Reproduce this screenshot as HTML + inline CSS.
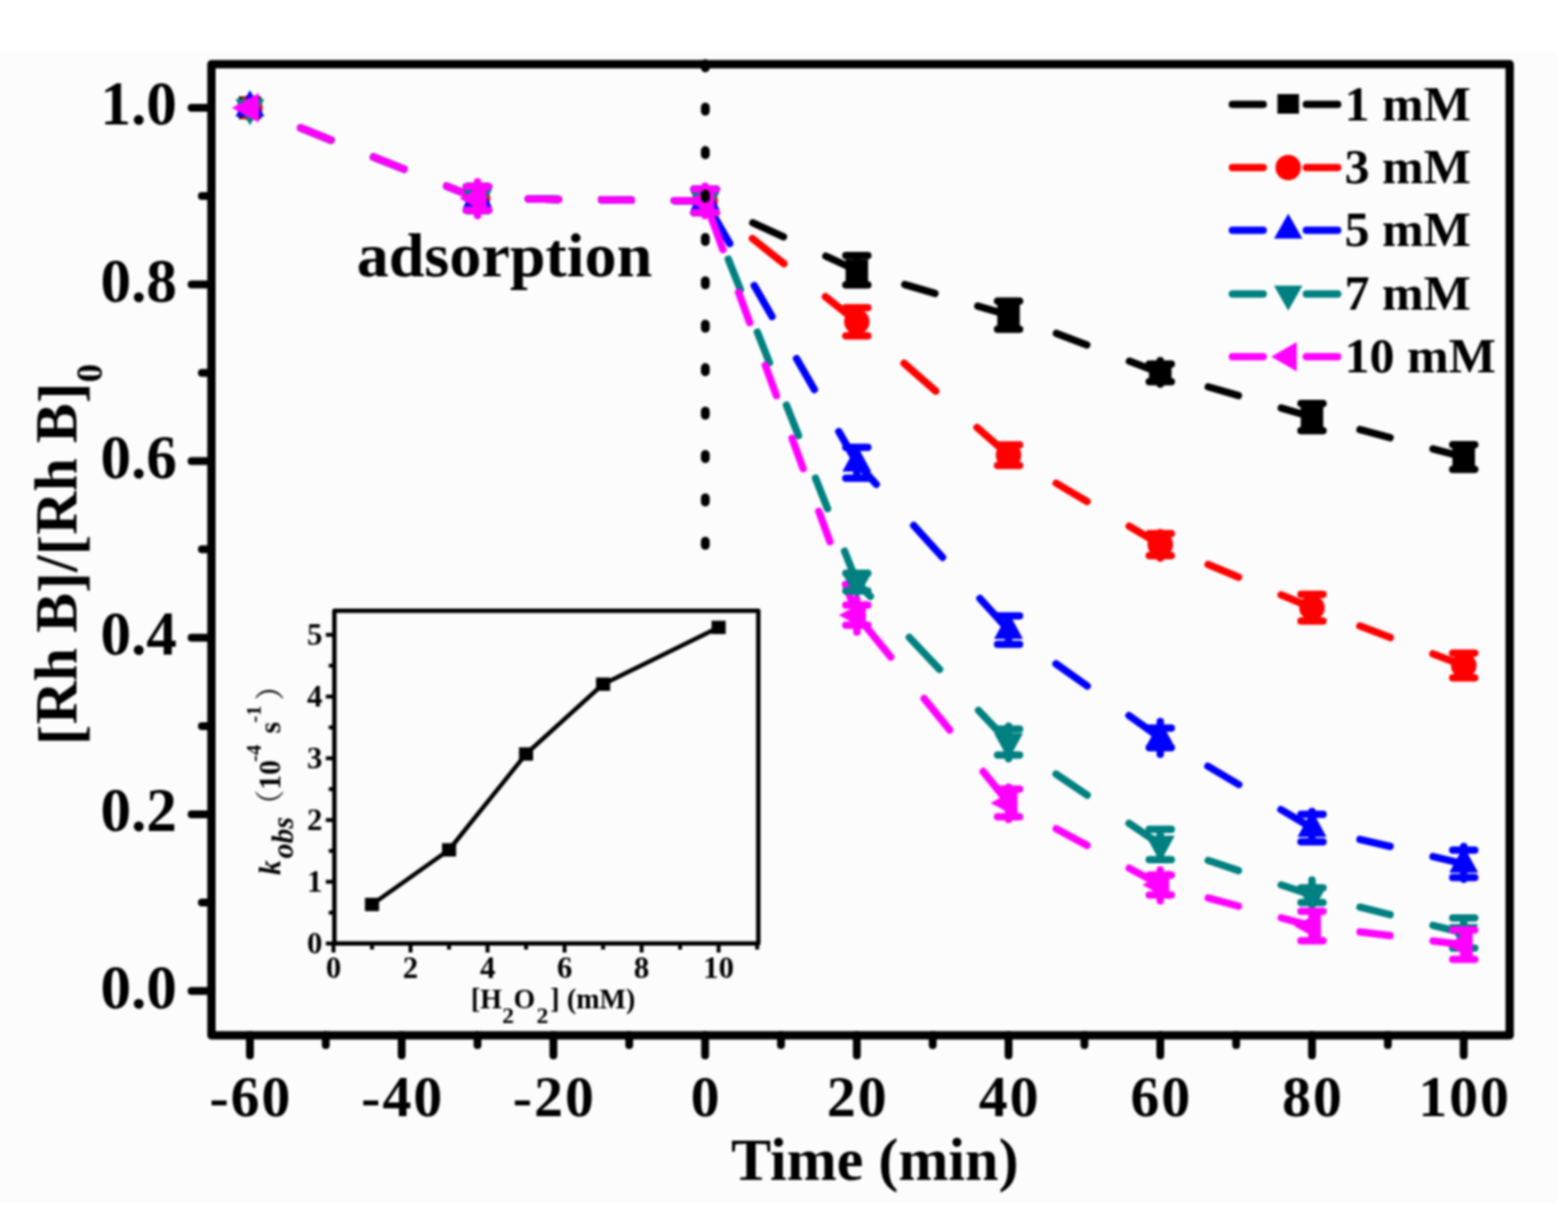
<!DOCTYPE html><html><head><meta charset="utf-8"><title>RhB degradation vs time</title><style>html,body{margin:0;padding:0;background:#fff;overflow:hidden;}svg{display:block;filter:blur(1px);}text{font-family:'Liberation Serif', 'Times New Roman', Times, serif;font-weight:bold;fill:#000;}</style></head><body>
<svg width="1600" height="1247" viewBox="0 0 1600 1247">
<rect x="0" y="0" width="1600" height="1247" fill="#ffffff"/>
<rect x="0" y="53" width="1589" height="1175" fill="#fcfcfc"/>
<g><path d="M455.75 189.95L483.79 201.11M381.25 160.27L412.29 172.63M306.75 130.60L337.79 142.96" stroke="#000000" stroke-width="7.5" stroke-linecap="round" fill="none"/><path d="M688.25 204.66L715.75 204.96M613.75 203.86L644.25 204.19M539.25 203.06L569.75 203.39" stroke="#000000" stroke-width="7.5" stroke-linecap="round" fill="none"/><path d="M842.73 261.39L870.91 274.29M768.23 227.30L799.41 241.57" stroke="#000000" stroke-width="7.5" stroke-linecap="round" fill="none"/><path d="M997.74 312.32L1025.54 320.54M923.24 290.30L954.04 299.41" stroke="#000000" stroke-width="7.5" stroke-linecap="round" fill="none"/><path d="M1152.46 368.52L1180.46 379.17M1077.96 340.18L1108.96 351.96" stroke="#000000" stroke-width="7.5" stroke-linecap="round" fill="none"/><path d="M1307.38 416.41L1335.18 424.50M1232.88 394.74L1263.68 403.70" stroke="#000000" stroke-width="7.5" stroke-linecap="round" fill="none"/><path d="M1462.23 458.08L1489.97 465.39M1387.73 438.45L1418.47 446.55" stroke="#000000" stroke-width="7.5" stroke-linecap="round" fill="none"/><path d="M455.75 189.95L483.79 201.11M381.25 160.27L412.29 172.63M306.75 130.60L337.79 142.96" stroke="#ff0000" stroke-width="7.5" stroke-linecap="round" fill="none"/><path d="M688.25 204.66L715.75 204.96M613.75 203.86L644.25 204.19M539.25 203.06L569.75 203.39" stroke="#ff0000" stroke-width="7.5" stroke-linecap="round" fill="none"/><path d="M842.25 302.80L871.39 326.01M767.75 243.44L799.89 269.05" stroke="#ff0000" stroke-width="7.5" stroke-linecap="round" fill="none"/><path d="M996.96 436.20L1026.32 462.02M922.46 370.68L954.82 399.15" stroke="#ff0000" stroke-width="7.5" stroke-linecap="round" fill="none"/><path d="M1152.19 537.03L1180.73 553.85M1077.69 493.12L1109.23 511.70" stroke="#ff0000" stroke-width="7.5" stroke-linecap="round" fill="none"/><path d="M1307.24 607.03L1335.32 618.71M1232.74 576.04L1263.82 588.97" stroke="#ff0000" stroke-width="7.5" stroke-linecap="round" fill="none"/><path d="M1462.10 667.15L1490.10 677.81M1387.60 638.76L1418.60 650.57" stroke="#ff0000" stroke-width="7.5" stroke-linecap="round" fill="none"/><path d="M455.75 189.95L483.79 201.11M381.25 160.27L412.29 172.63M306.75 130.60L337.79 142.96" stroke="#0000ff" stroke-width="7.5" stroke-linecap="round" fill="none"/><path d="M688.25 204.66L715.75 204.96M613.75 203.86L644.25 204.19M539.25 203.06L569.75 203.39" stroke="#0000ff" stroke-width="7.5" stroke-linecap="round" fill="none"/><path d="M855.92 440.49L872.44 469.01M812.77 365.99L831.02 397.51M769.61 291.49L787.86 323.01M726.45 216.99L744.70 248.51" stroke="#0000ff" stroke-width="7.5" stroke-linecap="round" fill="none"/><path d="M999.92 610.73L1026.62 640.17M932.35 536.23L961.77 568.67M876.84 475.03L894.20 494.17" stroke="#0000ff" stroke-width="7.5" stroke-linecap="round" fill="none"/><path d="M1152.02 730.29L1180.90 750.83M1077.52 677.34L1109.40 700.00" stroke="#0000ff" stroke-width="7.5" stroke-linecap="round" fill="none"/><path d="M1307.00 826.12L1335.56 843.08M1232.50 781.85L1264.06 800.60" stroke="#0000ff" stroke-width="7.5" stroke-linecap="round" fill="none"/><path d="M1462.25 874.07L1489.95 880.59M1387.75 856.53L1418.45 863.76" stroke="#0000ff" stroke-width="7.5" stroke-linecap="round" fill="none"/><path d="M455.75 189.95L483.79 201.11M381.25 160.27L412.29 172.63M306.75 130.60L337.79 142.96" stroke="#008080" stroke-width="7.5" stroke-linecap="round" fill="none"/><path d="M688.25 204.66L715.75 204.96M613.75 203.86L644.25 204.19M539.25 203.06L569.75 203.39" stroke="#008080" stroke-width="7.5" stroke-linecap="round" fill="none"/><path d="M861.78 562.48L872.93 590.52M832.13 487.98L844.48 519.02M802.48 413.48L814.83 444.52M772.83 338.98L785.18 370.02M743.17 264.48L755.52 295.52M720.89 208.48L725.87 221.02" stroke="#008080" stroke-width="7.5" stroke-linecap="round" fill="none"/><path d="M998.54 725.02L1026.56 754.58M927.91 650.52L958.77 683.08M876.90 596.72L888.14 608.58" stroke="#008080" stroke-width="7.5" stroke-linecap="round" fill="none"/><path d="M1152.07 840.19L1180.85 859.60M1077.57 789.96L1109.35 811.39" stroke="#008080" stroke-width="7.5" stroke-linecap="round" fill="none"/><path d="M1307.34 902.98L1335.22 912.31M1232.84 878.05L1263.72 888.39" stroke="#008080" stroke-width="7.5" stroke-linecap="round" fill="none"/><path d="M1462.24 944.28L1489.96 951.19M1387.74 925.71L1418.46 933.37" stroke="#008080" stroke-width="7.5" stroke-linecap="round" fill="none"/><path d="M455.75 189.95L483.79 201.11M381.25 160.27L412.29 172.63M306.75 130.60L337.79 142.96" stroke="#ff00ff" stroke-width="7.5" stroke-linecap="round" fill="none"/><path d="M688.25 204.66L715.75 204.96M613.75 203.86L644.25 204.19M539.25 203.06L569.75 203.39" stroke="#ff00ff" stroke-width="7.5" stroke-linecap="round" fill="none"/><path d="M862.79 596.27L873.03 624.23M835.51 521.77L846.85 552.73M808.22 447.27L819.56 478.23M780.94 372.77L792.28 403.73M753.66 298.27L765.00 329.23M726.37 223.77L737.71 254.73" stroke="#ff00ff" stroke-width="7.5" stroke-linecap="round" fill="none"/><path d="M1003.22 787.32L1026.78 816.48M943.04 712.82L969.02 744.98M882.86 638.32L908.84 670.48" stroke="#ff00ff" stroke-width="7.5" stroke-linecap="round" fill="none"/><path d="M1152.26 885.96L1180.66 901.32M1077.76 845.68L1109.16 862.66" stroke="#ff00ff" stroke-width="7.5" stroke-linecap="round" fill="none"/><path d="M1307.40 936.51L1335.16 944.02M1232.90 916.34L1263.66 924.67" stroke="#ff00ff" stroke-width="7.5" stroke-linecap="round" fill="none"/><path d="M1462.32 960.16L1489.88 963.54M1387.82 951.02L1418.38 954.77" stroke="#ff00ff" stroke-width="7.5" stroke-linecap="round" fill="none"/></g>
<g><rect x="243.54" y="98.50" width="23.0" height="23.0" fill="#000000"/><path d="M487.27 190.50V214.50M476.02 190.50H498.52M476.02 214.50H498.52" stroke="#000000" stroke-width="7.5" stroke-linecap="round" fill="none"/><rect x="475.77" y="191.00" width="23.0" height="23.0" fill="#000000"/><path d="M719.50 193.00V217.00M708.25 193.00H730.75M708.25 217.00H730.75" stroke="#000000" stroke-width="7.5" stroke-linecap="round" fill="none"/><rect x="708.00" y="193.50" width="23.0" height="23.0" fill="#000000"/><path d="M874.32 260.85V290.85M863.07 260.85H885.57M863.07 290.85H885.57" stroke="#000000" stroke-width="7.5" stroke-linecap="round" fill="none"/><rect x="862.82" y="264.35" width="23.0" height="23.0" fill="#000000"/><path d="M1029.14 307.20V336.00M1017.89 307.20H1040.39M1017.89 336.00H1040.39" stroke="#000000" stroke-width="7.5" stroke-linecap="round" fill="none"/><rect x="1017.64" y="310.10" width="23.0" height="23.0" fill="#000000"/><path d="M1183.96 367.90V391.90M1172.71 371.50H1195.21M1172.71 389.50H1195.21" stroke="#000000" stroke-width="7.5" stroke-linecap="round" fill="none"/><rect x="1172.46" y="369.00" width="23.0" height="23.0" fill="#000000"/><path d="M1338.78 411.70V439.40M1327.53 411.70H1350.03M1327.53 439.40H1350.03" stroke="#000000" stroke-width="7.5" stroke-linecap="round" fill="none"/><rect x="1327.28" y="414.05" width="23.0" height="23.0" fill="#000000"/><path d="M1493.60 453.70V479.00M1482.35 453.70H1504.85M1482.35 479.00H1504.85" stroke="#000000" stroke-width="7.5" stroke-linecap="round" fill="none"/><rect x="1482.10" y="454.85" width="23.0" height="23.0" fill="#000000"/><circle cx="255.04" cy="110.00" r="13" fill="#ff0000"/><path d="M487.27 190.50V214.50M476.02 190.50H498.52M476.02 214.50H498.52" stroke="#ff0000" stroke-width="7.5" stroke-linecap="round" fill="none"/><circle cx="487.27" cy="202.50" r="13" fill="#ff0000"/><path d="M719.50 193.00V217.00M708.25 193.00H730.75M708.25 217.00H730.75" stroke="#ff0000" stroke-width="7.5" stroke-linecap="round" fill="none"/><circle cx="719.50" cy="205.00" r="13" fill="#ff0000"/><path d="M874.32 314.00V342.70M863.07 314.00H885.57M863.07 342.70H885.57" stroke="#ff0000" stroke-width="7.5" stroke-linecap="round" fill="none"/><circle cx="874.32" cy="328.35" r="13" fill="#ff0000"/><path d="M1029.14 454.00V475.00M1017.89 454.00H1040.39M1017.89 475.00H1040.39" stroke="#ff0000" stroke-width="7.5" stroke-linecap="round" fill="none"/><circle cx="1029.14" cy="464.50" r="13" fill="#ff0000"/><path d="M1183.96 543.50V569.50M1172.71 544.50H1195.21M1172.71 567.00H1195.21" stroke="#ff0000" stroke-width="7.5" stroke-linecap="round" fill="none"/><circle cx="1183.96" cy="555.75" r="13" fill="#ff0000"/><path d="M1338.78 606.60V633.70M1327.53 606.60H1350.03M1327.53 633.70H1350.03" stroke="#ff0000" stroke-width="7.5" stroke-linecap="round" fill="none"/><circle cx="1338.78" cy="620.15" r="13" fill="#ff0000"/><path d="M1493.60 666.50V691.80M1482.35 666.50H1504.85M1482.35 691.80H1504.85" stroke="#ff0000" stroke-width="7.5" stroke-linecap="round" fill="none"/><circle cx="1493.60" cy="679.15" r="13" fill="#ff0000"/><polygon points="255.04,92.00 269.79,119.00 240.29,119.00" fill="#0000ff"/><path d="M487.27 190.50V214.50M476.02 190.50H498.52M476.02 214.50H498.52" stroke="#0000ff" stroke-width="7.5" stroke-linecap="round" fill="none"/><polygon points="487.27,184.50 502.02,211.50 472.52,211.50" fill="#0000ff"/><path d="M719.50 193.00V217.00M708.25 193.00H730.75M708.25 217.00H730.75" stroke="#0000ff" stroke-width="7.5" stroke-linecap="round" fill="none"/><polygon points="719.50,187.00 734.25,214.00 704.75,214.00" fill="#0000ff"/><path d="M874.32 456.50V488.00M863.07 456.50H885.57M863.07 488.00H885.57" stroke="#0000ff" stroke-width="7.5" stroke-linecap="round" fill="none"/><polygon points="874.32,454.25 889.07,481.25 859.57,481.25" fill="#0000ff"/><path d="M1029.14 628.40V657.50M1017.89 628.40H1040.39M1017.89 657.50H1040.39" stroke="#0000ff" stroke-width="7.5" stroke-linecap="round" fill="none"/><polygon points="1029.14,624.95 1043.89,651.95 1014.39,651.95" fill="#0000ff"/><path d="M1183.96 736.25V769.75M1172.71 743.00H1195.21M1172.71 763.00H1195.21" stroke="#0000ff" stroke-width="7.5" stroke-linecap="round" fill="none"/><polygon points="1183.96,735.00 1198.71,762.00 1169.21,762.00" fill="#0000ff"/><path d="M1338.78 828.00V859.00M1327.53 831.00H1350.03M1327.53 859.00H1350.03" stroke="#0000ff" stroke-width="7.5" stroke-linecap="round" fill="none"/><polygon points="1338.78,827.00 1353.53,854.00 1324.03,854.00" fill="#0000ff"/><path d="M1493.60 863.70V897.20M1482.35 867.50H1504.85M1482.35 895.40H1504.85" stroke="#0000ff" stroke-width="7.5" stroke-linecap="round" fill="none"/><polygon points="1493.60,863.45 1508.35,890.45 1478.85,890.45" fill="#0000ff"/><polygon points="255.04,128.00 269.79,101.00 240.29,101.00" fill="#008080"/><path d="M487.27 190.50V214.50M476.02 190.50H498.52M476.02 214.50H498.52" stroke="#008080" stroke-width="7.5" stroke-linecap="round" fill="none"/><polygon points="487.27,220.50 502.02,193.50 472.52,193.50" fill="#008080"/><path d="M719.50 193.00V217.00M708.25 193.00H730.75M708.25 217.00H730.75" stroke="#008080" stroke-width="7.5" stroke-linecap="round" fill="none"/><polygon points="719.50,223.00 734.25,196.00 704.75,196.00" fill="#008080"/><path d="M874.32 585.00V603.00M863.07 585.00H885.57M863.07 603.00H885.57" stroke="#008080" stroke-width="7.5" stroke-linecap="round" fill="none"/><polygon points="874.32,612.00 889.07,585.00 859.57,585.00" fill="#008080"/><path d="M1029.14 741.00V774.20M1017.89 744.00H1040.39M1017.89 770.60H1040.39" stroke="#008080" stroke-width="7.5" stroke-linecap="round" fill="none"/><polygon points="1029.14,775.30 1043.89,748.30 1014.39,748.30" fill="#008080"/><path d="M1183.96 846.20V877.20M1172.71 846.20H1195.21M1172.71 877.20H1195.21" stroke="#008080" stroke-width="7.5" stroke-linecap="round" fill="none"/><polygon points="1183.96,879.70 1198.71,852.70 1169.21,852.70" fill="#008080"/><path d="M1338.78 898.00V921.00M1327.53 906.00H1350.03M1327.53 921.00H1350.03" stroke="#008080" stroke-width="7.5" stroke-linecap="round" fill="none"/><polygon points="1338.78,931.50 1353.53,904.50 1324.03,904.50" fill="#008080"/><path d="M1493.60 936.70V967.50M1482.35 936.70H1504.85M1482.35 967.50H1504.85" stroke="#008080" stroke-width="7.5" stroke-linecap="round" fill="none"/><polygon points="1493.60,970.10 1508.35,943.10 1478.85,943.10" fill="#008080"/><polygon points="236.71,110.00 264.21,95.00 264.21,125.00" fill="#ff00ff"/><path d="M487.27 185.50V219.90M476.02 190.50H498.52M476.02 214.50H498.52" stroke="#ff00ff" stroke-width="7.5" stroke-linecap="round" fill="none"/><polygon points="468.94,202.50 496.44,187.50 496.44,217.50" fill="#ff00ff"/><path d="M719.50 190.00V220.00M708.25 193.00H730.75M708.25 217.00H730.75" stroke="#ff00ff" stroke-width="7.5" stroke-linecap="round" fill="none"/><polygon points="701.17,205.00 728.67,190.00 728.67,220.00" fill="#ff00ff"/><path d="M874.32 611.50V645.00M863.07 617.50H885.57M863.07 638.00H885.57" stroke="#ff00ff" stroke-width="7.5" stroke-linecap="round" fill="none"/><polygon points="855.99,627.75 883.49,612.75 883.49,642.75" fill="#ff00ff"/><path d="M1029.14 803.30V836.25M1017.89 805.30H1040.39M1017.89 833.50H1040.39" stroke="#ff00ff" stroke-width="7.5" stroke-linecap="round" fill="none"/><polygon points="1010.81,819.40 1038.31,804.40 1038.31,834.40" fill="#ff00ff"/><path d="M1183.96 887.75V919.20M1172.71 893.00H1195.21M1172.71 913.20H1195.21" stroke="#ff00ff" stroke-width="7.5" stroke-linecap="round" fill="none"/><polygon points="1165.63,903.10 1193.13,888.10 1193.13,918.10" fill="#ff00ff"/><path d="M1338.78 930.00V960.00M1327.53 930.00H1350.03M1327.53 960.00H1350.03" stroke="#ff00ff" stroke-width="7.5" stroke-linecap="round" fill="none"/><polygon points="1320.45,945.00 1347.95,930.00 1347.95,960.00" fill="#ff00ff"/><path d="M1493.60 949.00V979.00M1482.35 949.00H1504.85M1482.35 979.00H1504.85" stroke="#ff00ff" stroke-width="7.5" stroke-linecap="round" fill="none"/><polygon points="1475.27,964.00 1502.77,949.00 1502.77,979.00" fill="#ff00ff"/></g>
<line x1="719.7" y1="65" x2="719.7" y2="558" stroke="#000" stroke-width="9" stroke-linecap="round" stroke-dasharray="4.3 40"/>
<rect x="215.75" y="65.5" width="1324.75" height="991.1" fill="none" stroke="#000" stroke-width="8.5" stroke-linejoin="round"/>
<line x1="195.5" y1="1011.25" x2="216" y2="1011.25" stroke="#000" stroke-width="8" stroke-linecap="round"/>
<line x1="206" y1="921.12" x2="216" y2="921.12" stroke="#000" stroke-width="8" stroke-linecap="round"/>
<line x1="195.5" y1="831.00" x2="216" y2="831.00" stroke="#000" stroke-width="8" stroke-linecap="round"/>
<line x1="206" y1="740.88" x2="216" y2="740.88" stroke="#000" stroke-width="8" stroke-linecap="round"/>
<line x1="195.5" y1="650.75" x2="216" y2="650.75" stroke="#000" stroke-width="8" stroke-linecap="round"/>
<line x1="206" y1="560.62" x2="216" y2="560.62" stroke="#000" stroke-width="8" stroke-linecap="round"/>
<line x1="195.5" y1="470.50" x2="216" y2="470.50" stroke="#000" stroke-width="8" stroke-linecap="round"/>
<line x1="206" y1="380.38" x2="216" y2="380.38" stroke="#000" stroke-width="8" stroke-linecap="round"/>
<line x1="195.5" y1="290.25" x2="216" y2="290.25" stroke="#000" stroke-width="8" stroke-linecap="round"/>
<line x1="206" y1="200.12" x2="216" y2="200.12" stroke="#000" stroke-width="8" stroke-linecap="round"/>
<line x1="195.5" y1="110.00" x2="216" y2="110.00" stroke="#000" stroke-width="8" stroke-linecap="round"/>
<line x1="255.04" y1="1056" x2="255.04" y2="1077" stroke="#000" stroke-width="8" stroke-linecap="round"/>
<line x1="332.45" y1="1056" x2="332.45" y2="1066.5" stroke="#000" stroke-width="8" stroke-linecap="round"/>
<line x1="409.86" y1="1056" x2="409.86" y2="1077" stroke="#000" stroke-width="8" stroke-linecap="round"/>
<line x1="487.27" y1="1056" x2="487.27" y2="1066.5" stroke="#000" stroke-width="8" stroke-linecap="round"/>
<line x1="564.68" y1="1056" x2="564.68" y2="1077" stroke="#000" stroke-width="8" stroke-linecap="round"/>
<line x1="642.09" y1="1056" x2="642.09" y2="1066.5" stroke="#000" stroke-width="8" stroke-linecap="round"/>
<line x1="719.50" y1="1056" x2="719.50" y2="1077" stroke="#000" stroke-width="8" stroke-linecap="round"/>
<line x1="796.91" y1="1056" x2="796.91" y2="1066.5" stroke="#000" stroke-width="8" stroke-linecap="round"/>
<line x1="874.32" y1="1056" x2="874.32" y2="1077" stroke="#000" stroke-width="8" stroke-linecap="round"/>
<line x1="951.73" y1="1056" x2="951.73" y2="1066.5" stroke="#000" stroke-width="8" stroke-linecap="round"/>
<line x1="1029.14" y1="1056" x2="1029.14" y2="1077" stroke="#000" stroke-width="8" stroke-linecap="round"/>
<line x1="1106.55" y1="1056" x2="1106.55" y2="1066.5" stroke="#000" stroke-width="8" stroke-linecap="round"/>
<line x1="1183.96" y1="1056" x2="1183.96" y2="1077" stroke="#000" stroke-width="8" stroke-linecap="round"/>
<line x1="1261.37" y1="1056" x2="1261.37" y2="1066.5" stroke="#000" stroke-width="8" stroke-linecap="round"/>
<line x1="1338.78" y1="1056" x2="1338.78" y2="1077" stroke="#000" stroke-width="8" stroke-linecap="round"/>
<line x1="1416.19" y1="1056" x2="1416.19" y2="1066.5" stroke="#000" stroke-width="8" stroke-linecap="round"/>
<line x1="1493.60" y1="1056" x2="1493.60" y2="1077" stroke="#000" stroke-width="8" stroke-linecap="round"/>
<text x="180.5" y="1028.55" font-size="62.5" text-anchor="end">0.0</text>
<text x="180.5" y="848.30" font-size="62.5" text-anchor="end">0.2</text>
<text x="180.5" y="668.05" font-size="62.5" text-anchor="end">0.4</text>
<text x="180.5" y="487.80" font-size="62.5" text-anchor="end">0.6</text>
<text x="180.5" y="307.55" font-size="62.5" text-anchor="end">0.8</text>
<text x="180.5" y="127.30" font-size="62.5" text-anchor="end">1.0</text>
<text x="256.04" y="1138.8" font-size="59" letter-spacing="2" text-anchor="middle">-60</text>
<text x="410.86" y="1138.8" font-size="59" letter-spacing="2" text-anchor="middle">-40</text>
<text x="565.68" y="1138.8" font-size="59" letter-spacing="2" text-anchor="middle">-20</text>
<text x="720.50" y="1138.8" font-size="59" letter-spacing="2" text-anchor="middle">0</text>
<text x="875.32" y="1138.8" font-size="59" letter-spacing="2" text-anchor="middle">20</text>
<text x="1030.14" y="1138.8" font-size="59" letter-spacing="2" text-anchor="middle">40</text>
<text x="1184.96" y="1138.8" font-size="59" letter-spacing="2" text-anchor="middle">60</text>
<text x="1339.78" y="1138.8" font-size="59" letter-spacing="2" text-anchor="middle">80</text>
<text x="1494.60" y="1138.8" font-size="59" letter-spacing="2" text-anchor="middle">100</text>
<text x="892.6" y="1204.4" font-size="61.3" text-anchor="middle">Time (min)</text>
<text transform="translate(78,760.5) rotate(-90)" font-size="62"><tspan font-size="63.5" dy="4.5">[</tspan><tspan font-size="61.2" dy="-4.5">Rh B</tspan><tspan font-size="63.5" dy="4.5">]</tspan><tspan font-size="61.2" dy="-4.5">/</tspan><tspan font-size="63.5" dy="4.5">[</tspan><tspan font-size="61.2" dy="-4.5">Rh B</tspan><tspan font-size="63.5" dy="4.5">]</tspan><tspan font-size="38" dy="21.5">0</tspan></text>
<text x="364" y="281.5" font-size="63.5" textLength="301.5" lengthAdjust="spacingAndGlyphs">adsorption</text>
<path d="M1257.5 106.5H1289M1333 106.5H1365" stroke="#000000" stroke-width="7.5" stroke-linecap="round"/>
<rect x="1303.5" y="96.0" width="22" height="20" fill="#000000"/>
<text x="1372" y="122.8" font-size="51">1 mM</text>
<path d="M1257.5 171H1289M1333 171H1365" stroke="#ff0000" stroke-width="7.5" stroke-linecap="round"/>
<circle cx="1314.50" cy="171.00" r="13" fill="#ff0000"/>
<text x="1372" y="187.3" font-size="51">3 mM</text>
<path d="M1257.5 235H1289M1333 235H1365" stroke="#0000ff" stroke-width="7.5" stroke-linecap="round"/>
<polygon points="1314.50,218.00 1329.00,243.50 1300.00,243.50" fill="#0000ff"/>
<text x="1372" y="251.3" font-size="51">5 mM</text>
<path d="M1257.5 300H1289M1333 300H1365" stroke="#008080" stroke-width="7.5" stroke-linecap="round"/>
<polygon points="1314.50,317.00 1329.00,291.50 1300.00,291.50" fill="#008080"/>
<text x="1372" y="316.3" font-size="51">7 mM</text>
<path d="M1257.5 364H1289M1333 364H1365" stroke="#ff00ff" stroke-width="7.5" stroke-linecap="round"/>
<polygon points="1297.17,364.00 1323.17,349.00 1323.17,379.00" fill="#ff00ff"/>
<text x="1372" y="380.3" font-size="51">10 mM</text>
<rect x="341.2" y="623.3" width="432.6" height="339.5" fill="#fcfcfc" stroke="#000" stroke-width="4.5" stroke-linejoin="round"/>
<line x1="340.30" y1="962.8" x2="340.30" y2="972" stroke="#000" stroke-width="4"/>
<line x1="379.60" y1="962.8" x2="379.60" y2="969" stroke="#000" stroke-width="4"/>
<line x1="418.90" y1="962.8" x2="418.90" y2="972" stroke="#000" stroke-width="4"/>
<line x1="458.20" y1="962.8" x2="458.20" y2="969" stroke="#000" stroke-width="4"/>
<line x1="497.50" y1="962.8" x2="497.50" y2="972" stroke="#000" stroke-width="4"/>
<line x1="536.80" y1="962.8" x2="536.80" y2="969" stroke="#000" stroke-width="4"/>
<line x1="576.10" y1="962.8" x2="576.10" y2="972" stroke="#000" stroke-width="4"/>
<line x1="615.40" y1="962.8" x2="615.40" y2="969" stroke="#000" stroke-width="4"/>
<line x1="654.70" y1="962.8" x2="654.70" y2="972" stroke="#000" stroke-width="4"/>
<line x1="694.00" y1="962.8" x2="694.00" y2="969" stroke="#000" stroke-width="4"/>
<line x1="733.30" y1="962.8" x2="733.30" y2="972" stroke="#000" stroke-width="4"/>
<line x1="772.60" y1="962.8" x2="772.60" y2="969" stroke="#000" stroke-width="4"/>
<line x1="332.5" y1="962.80" x2="341.2" y2="962.80" stroke="#000" stroke-width="4"/>
<line x1="335.5" y1="931.30" x2="341.2" y2="931.30" stroke="#000" stroke-width="4"/>
<line x1="332.5" y1="899.80" x2="341.2" y2="899.80" stroke="#000" stroke-width="4"/>
<line x1="335.5" y1="868.30" x2="341.2" y2="868.30" stroke="#000" stroke-width="4"/>
<line x1="332.5" y1="836.80" x2="341.2" y2="836.80" stroke="#000" stroke-width="4"/>
<line x1="335.5" y1="805.30" x2="341.2" y2="805.30" stroke="#000" stroke-width="4"/>
<line x1="332.5" y1="773.80" x2="341.2" y2="773.80" stroke="#000" stroke-width="4"/>
<line x1="335.5" y1="742.30" x2="341.2" y2="742.30" stroke="#000" stroke-width="4"/>
<line x1="332.5" y1="710.80" x2="341.2" y2="710.80" stroke="#000" stroke-width="4"/>
<line x1="335.5" y1="679.30" x2="341.2" y2="679.30" stroke="#000" stroke-width="4"/>
<line x1="332.5" y1="647.80" x2="341.2" y2="647.80" stroke="#000" stroke-width="4"/>
<text x="340.30" y="998.3" font-size="31.5" text-anchor="middle">0</text>
<text x="418.90" y="998.3" font-size="31.5" text-anchor="middle">2</text>
<text x="497.50" y="998.3" font-size="31.5" text-anchor="middle">4</text>
<text x="576.10" y="998.3" font-size="31.5" text-anchor="middle">6</text>
<text x="654.70" y="998.3" font-size="31.5" text-anchor="middle">8</text>
<text x="733.30" y="998.3" font-size="31.5" text-anchor="middle">10</text>
<text x="329" y="973.30" font-size="31.5" text-anchor="end">0</text>
<text x="329" y="910.30" font-size="31.5" text-anchor="end">1</text>
<text x="329" y="847.30" font-size="31.5" text-anchor="end">2</text>
<text x="329" y="784.30" font-size="31.5" text-anchor="end">3</text>
<text x="329" y="721.30" font-size="31.5" text-anchor="end">4</text>
<text x="329" y="658.30" font-size="31.5" text-anchor="end">5</text>
<text font-size="28.5"><tspan x="480.5" y="1029.4">[H</tspan><tspan x="512.5" y="1044" font-size="24">2</tspan><tspan x="524" y="1029.4">O</tspan><tspan x="547.5" y="1044" font-size="24">2</tspan><tspan x="561.5" y="1029.4">]</tspan><tspan x="578.5" y="1029.4">(mM)</tspan></text>
<text transform="translate(286,893) rotate(-90)" font-size="30.5"><tspan x="0" y="0" font-style="italic">k</tspan><tspan x="17" y="12.5" font-style="italic">obs</tspan><tspan x="56.6" y="0" style="font-family:'Liberation Serif','Noto Serif CJK SC',serif;font-weight:normal">（</tspan><tspan x="87.1" y="0">10</tspan><tspan x="115.5" y="-20" font-size="21">-4</tspan><tspan x="144.5" y="0">s</tspan><tspan x="155.5" y="-20" font-size="21">-1</tspan><tspan x="178.2" y="0" style="font-family:'Liberation Serif','Noto Serif CJK SC',serif;font-weight:normal">）</tspan></text>
<polyline points="379.60,922.98 458.20,867.23 536.80,769.39 615.40,698.20 733.30,640.24" fill="none" stroke="#000" stroke-width="4.5" stroke-linejoin="round"/>
<rect x="372.40" y="916.18" width="14.4" height="13.6" fill="#000"/>
<rect x="451.00" y="860.43" width="14.4" height="13.6" fill="#000"/>
<rect x="529.60" y="762.59" width="14.4" height="13.6" fill="#000"/>
<rect x="608.20" y="691.40" width="14.4" height="13.6" fill="#000"/>
<rect x="726.10" y="633.44" width="14.4" height="13.6" fill="#000"/>
</svg></body></html>
